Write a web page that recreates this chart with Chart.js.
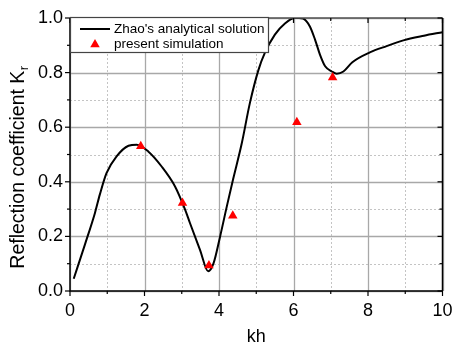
<!DOCTYPE html>
<html>
<head>
<meta charset="utf-8">
<script src="https://cdn.jsdelivr.net/npm/chart.js@4/dist/chart.umd.min.js"></script>
<style>
html,body{margin:0;padding:0;background:#fff;}
#wrap{width:453px;height:345px;position:relative;}
</style>
</head>
<body>
<div id="wrap"><canvas id="c" width="453" height="345"></canvas></div>
<script>
// ---- data ----
const curveX = [0.1, 0.4, 0.67, 0.8, 0.98, 1.25, 1.57, 1.79, 2.1, 2.46, 2.82, 3.09, 3.22, 3.49, 3.71, 3.85, 4.03, 4.21, 4.38, 4.61, 4.83, 5.06, 5.23, 5.5, 5.77, 6.04, 6.15, 6.26, 6.44, 6.58, 6.71, 6.85, 7.03, 7.16, 7.34, 7.58, 8.05, 8.5, 8.95, 9.5, 10.0];
const curveY = [0.045, 0.17, 0.286, 0.353, 0.432, 0.493, 0.532, 0.536, 0.511, 0.456, 0.383, 0.298, 0.249, 0.151, 0.072, 0.10, 0.20, 0.31, 0.41, 0.54, 0.689, 0.81, 0.872, 0.939, 0.98, 1.0, 1.0, 0.998, 0.969, 0.92, 0.866, 0.823, 0.804, 0.796, 0.804, 0.838, 0.874, 0.897, 0.918, 0.935, 0.948];
const simX = [1.9, 3.02, 3.73, 4.37, 6.09, 7.05];
const simY = [0.53, 0.322, 0.093, 0.276, 0.618, 0.782];
const seriesNames = ["Zhao's analytical solution", "present simulation"];
const xMajor = [0, 2, 4, 6, 8, 10];
const xMinor = [1, 3, 5, 7, 9];
const yMajor = [0, 0.2, 0.4, 0.6, 0.8, 1.0];
const yMinor = [0.1, 0.3, 0.5, 0.7, 0.9];
const xTitle = "kh";
const yTitleMain = "Reflection coefficient K";
const yTitleSub = "r";

const FONT = "'Liberation Sans', Arial, sans-serif";

const curvePts = curveX.map((v, i) => ({x: v, y: curveY[i]}));
const simPts = simX.map((v, i) => ({x: v, y: simY[i]}));

const decor = {
  id: 'decor',
  beforeDatasetsDraw(chart) {
    const {ctx, chartArea: a, scales: {x, y}} = chart;
    ctx.save();
    ctx.lineWidth = 1;
    ctx.strokeStyle = '#c4c4c4';
    ctx.setLineDash([2, 2]);
    xMinor.forEach(v => {
      const p = Math.round(x.getPixelForValue(v)) + 0.5;
      ctx.beginPath(); ctx.moveTo(p, a.top); ctx.lineTo(p, a.bottom); ctx.stroke();
    });
    yMinor.forEach(v => {
      const p = Math.round(y.getPixelForValue(v)) + 0.5;
      ctx.beginPath(); ctx.moveTo(a.left, p); ctx.lineTo(a.right, p); ctx.stroke();
    });
    ctx.setLineDash([]);
    ctx.strokeStyle = '#a8a8a8';
    ctx.lineWidth = 1.3;
    xMajor.forEach(v => {
      const p = Math.round(x.getPixelForValue(v)) + 0.5;
      ctx.beginPath(); ctx.moveTo(p, a.top); ctx.lineTo(p, a.bottom); ctx.stroke();
    });
    yMajor.forEach(v => {
      const p = Math.round(y.getPixelForValue(v)) + 0.5;
      ctx.beginPath(); ctx.moveTo(a.left, p); ctx.lineTo(a.right, p); ctx.stroke();
    });
    ctx.restore();
  },
  afterDatasetsDraw(chart) {
    const {ctx, chartArea: a, scales: {x, y}} = chart;
    ctx.save();
    ctx.lineWidth = 1.5;
    ctx.strokeStyle = '#555';
    ctx.beginPath(); ctx.moveTo(a.left, a.top); ctx.lineTo(a.right, a.top); ctx.stroke();
    ctx.strokeStyle = '#000';
    ctx.beginPath(); ctx.moveTo(a.right, a.top); ctx.lineTo(a.right, a.bottom); ctx.stroke();
    ctx.beginPath(); ctx.moveTo(a.left, a.top); ctx.lineTo(a.left, a.bottom); ctx.lineTo(a.right, a.bottom); ctx.stroke();
    ctx.lineWidth = 1.2;
    ctx.strokeStyle = '#000';
    xMajor.forEach(v => {
      const p = x.getPixelForValue(v);
      ctx.beginPath(); ctx.moveTo(p, a.bottom); ctx.lineTo(p, a.bottom + 5); ctx.stroke();
      ctx.beginPath(); ctx.moveTo(p, a.top); ctx.lineTo(p, a.top + 5); ctx.stroke();
    });
    xMinor.forEach(v => {
      const p = x.getPixelForValue(v);
      ctx.beginPath(); ctx.moveTo(p, a.bottom); ctx.lineTo(p, a.bottom + 3); ctx.stroke();
      ctx.beginPath(); ctx.moveTo(p, a.top); ctx.lineTo(p, a.top + 3); ctx.stroke();
    });
    yMajor.forEach(v => {
      const p = y.getPixelForValue(v);
      ctx.beginPath(); ctx.moveTo(a.left - 5, p); ctx.lineTo(a.left, p); ctx.stroke();
      ctx.beginPath(); ctx.moveTo(a.right - 5, p); ctx.lineTo(a.right, p); ctx.stroke();
    });
    yMinor.forEach(v => {
      const p = y.getPixelForValue(v);
      ctx.beginPath(); ctx.moveTo(a.left - 3, p); ctx.lineTo(a.left, p); ctx.stroke();
      ctx.beginPath(); ctx.moveTo(a.right - 3, p); ctx.lineTo(a.right, p); ctx.stroke();
    });
    // legend
    const lx = a.left, ly = a.top - 1, lw = 198, lh = 35;
    ctx.fillStyle = '#fff';
    ctx.fillRect(lx, ly, lw, lh);
    ctx.lineWidth = 1.2;
    ctx.strokeStyle = '#444';
    ctx.strokeRect(lx + 0.5, ly + 0.5, lw, lh);
    ctx.strokeStyle = '#000';
    ctx.lineWidth = 2;
    ctx.beginPath(); ctx.moveTo(lx + 10, ly + 12); ctx.lineTo(lx + 40, ly + 12); ctx.stroke();
    const tx = lx + 25, ty = ly + 27.5, r = 5.5;
    ctx.fillStyle = '#ff0000';
    ctx.beginPath();
    ctx.moveTo(tx, ty - r);
    ctx.lineTo(tx + r * 0.866, ty + r * 0.5);
    ctx.lineTo(tx - r * 0.866, ty + r * 0.5);
    ctx.closePath(); ctx.fill();
    ctx.fillStyle = '#000';
    ctx.font = "13.5px " + FONT;
    ctx.textBaseline = 'middle';
    ctx.textAlign = 'left';
    ctx.fillText(chart.data.datasets[0].label, lx + 44, ly + 12);
    ctx.fillText(chart.data.datasets[1].label, lx + 44, ly + 27.5);
    // axis titles
    ctx.font = "18px " + FONT;
    ctx.textAlign = 'center';
    ctx.textBaseline = 'alphabetic';
    ctx.fillText(xTitle, (a.left + a.right) / 2, 342);
    ctx.save();
    ctx.translate(24, 167.5);
    ctx.rotate(-Math.PI / 2);
    ctx.font = "19.5px " + FONT;
    const w1 = ctx.measureText(yTitleMain).width;
    ctx.font = "13px " + FONT;
    const w2 = ctx.measureText(yTitleSub).width;
    const start = -(w1 + w2) / 2;
    ctx.textAlign = 'left';
    ctx.font = "19.5px " + FONT;
    ctx.fillText(yTitleMain, start, 0);
    ctx.font = "13px " + FONT;
    ctx.fillText(yTitleSub, start + w1 + 0.5, 4);
    ctx.restore();
    ctx.restore();
  }
};

new Chart(document.getElementById('c'), {
  type: 'scatter',
  data: {
    datasets: [
      {
        label: seriesNames[0],
        data: curvePts,
        showLine: true,
        borderColor: '#000',
        borderWidth: 2,
        pointRadius: 0,
        fill: false,
        cubicInterpolationMode: 'monotone',
        order: 2
      },
      {
        label: seriesNames[1],
        data: simPts,
        showLine: false,
        pointStyle: 'triangle',
        pointRadius: 5.5,
        backgroundColor: '#ff0000',
        borderColor: '#ff0000',
        borderWidth: 0,
        order: 1
      }
    ]
  },
  plugins: [decor],
  options: {
    responsive: false,
    animation: false,
    events: [],
    layout: {padding: {top: 18, right: 10.5, left: 0, bottom: 0}},
    plugins: {legend: {display: false}, tooltip: {enabled: false}},
    scales: {
      x: {
        type: 'linear', min: 0, max: 10,
        afterFit(s) { s.height = 54; s.paddingLeft = 0; s.paddingRight = 0; },
        grid: {display: false, drawTicks: false},
        border: {display: false},
        ticks: {stepSize: 2, padding: 9, color: '#000', font: {family: FONT, size: 18}, maxRotation: 0,
                callback: v => String(v)}
      },
      y: {
        type: 'linear', min: 0, max: 1,
        afterFit(s) { s.width = 70; s.paddingTop = 0; s.paddingBottom = 0; },
        grid: {display: false, drawTicks: false},
        border: {display: false},
        ticks: {stepSize: 0.2, padding: 7, color: '#000', font: {family: FONT, size: 18},
                callback: v => Number(v).toFixed(1)}
      }
    }
  }
});
</script>
</body>
</html>
